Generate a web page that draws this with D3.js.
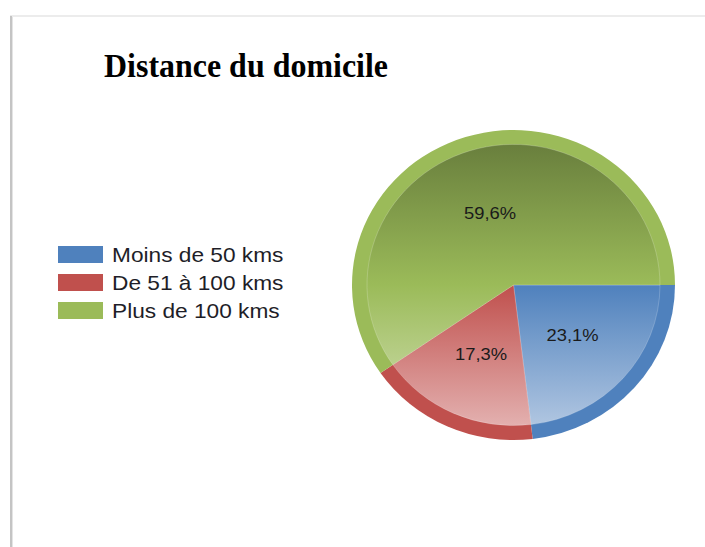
<!DOCTYPE html>
<html>
<head>
<meta charset="utf-8">
<script src="https://cdn.jsdelivr.net/npm/d3@7"></script>
<style>
  html, body { margin: 0; padding: 0; background: #fff; }
  svg { display: block; }
</style>
</head>
<body>
<svg id="chart" width="705" height="547"></svg>
<script>
// Répartition des distances au domicile (en %)
const categories = ["Moins de 50 kms", "De 51 à 100 kms", "Plus de 100 kms"];
const shares = [23.1, 17.3, 59.6];
const labels = ["23,1%", "17,3%", "59,6%"];
const colors = ["#4f81bd", "#c0504d", "#9bbb59"];

const svg = d3.select("#chart");
const defs = svg.append("defs");
const stretch = 1.08; // léger étirement horizontal des textes

// Cadre : ombre gauche et filet supérieur
svg.append("rect").attr("x", 10).attr("y", 15).attr("width", 695).attr("height", 2).attr("fill", "#ececec");
svg.append("rect").attr("x", 10).attr("y", 16).attr("width", 2).attr("height", 531).attr("fill", "#c4c4c4");
svg.append("rect").attr("x", 12).attr("y", 17).attr("width", 1).attr("height", 530).attr("fill", "#e4e4e4");

// Titre
svg.append("text")
  .attr("x", 104).attr("y", 77)
  .attr("font-family", "'Liberation Serif', 'Times New Roman', serif")
  .attr("font-weight", "bold")
  .attr("font-size", 33)
  .attr("textLength", 284)
  .attr("lengthAdjust", "spacingAndGlyphs")
  .attr("fill", "#000")
  .text("Distance du domicile");

// Légende
const legend = svg.append("g").attr("transform", "translate(58,246)");
const items = legend.selectAll("g").data(categories).join("g")
  .attr("transform", (d, i) => `translate(0,${i * 28})`);
items.append("rect").attr("width", 45).attr("height", 17)
  .attr("fill", (d, i) => colors[i]);
items.append("text")
  .attr("x", 54).attr("y", 16)
  .attr("font-family", "'Liberation Sans', Arial, sans-serif")
  .attr("font-size", 21)
  .attr("fill", "#1e1e28")
  .text(d => d)
  .each(function () {
    const w = this.getComputedTextLength();
    d3.select(this).attr("textLength", w * stretch).attr("lengthAdjust", "spacingAndGlyphs");
  });

// Camembert
const cx = 513.5, cy = 285, R = 161.5, ry = 155;
const innerR = R - 15;
const pie = d3.pie().sort(null).value(d => d).startAngle(Math.PI / 2).endAngle(Math.PI / 2 + 2 * Math.PI);
const arcs = pie(shares);
const outerArc = d3.arc().innerRadius(0).outerRadius(R);
const innerArc = d3.arc().innerRadius(0).outerRadius(innerR);

colors.forEach((c, i) => {
  const g = defs.append("linearGradient")
    .attr("id", "grad" + i)
    .attr("gradientUnits", "userSpaceOnUse")
    .attr("x1", 0).attr("x2", 0).attr("y1", -innerR).attr("y2", innerR);
  g.append("stop").attr("offset", "0%").attr("stop-color", d3.interpolateRgb(c, "#000")(0.32));
  g.append("stop").attr("offset", "50%").attr("stop-color", c);
  g.append("stop").attr("offset", "100%").attr("stop-color", d3.interpolateRgb(c, "#fff")(0.55));
});

const pieG = svg.append("g").attr("transform", `translate(${cx},${cy}) scale(1,${ry / R})`);
pieG.selectAll("path.outer").data(arcs).join("path")
  .attr("class", "outer")
  .attr("d", outerArc)
  .attr("fill", (d, i) => colors[i]);
pieG.selectAll("path.inner").data(arcs).join("path")
  .attr("class", "inner")
  .attr("d", innerArc)
  .attr("fill", (d, i) => `url(#grad${i})`)
  .attr("stroke", "rgba(255,255,255,0.25)")
  .attr("stroke-width", 0.8);

// Étiquettes de pourcentage
const labelArc = d3.arc().innerRadius(79).outerRadius(79);
svg.append("g").attr("transform", `translate(${cx},${cy})`)
  .selectAll("text").data(arcs).join("text")
  .attr("transform", d => {
    const [x, y] = labelArc.centroid(d);
    return `translate(${x},${y * ry / R}) scale(${stretch},1)`;
  })
  .attr("text-anchor", "middle")
  .attr("dy", "0.35em")
  .attr("font-family", "'Liberation Sans', Arial, sans-serif")
  .attr("font-size", 17)
  .attr("fill", "#1a1a1a")
  .text((d, i) => labels[i]);
</script>
</body>
</html>
